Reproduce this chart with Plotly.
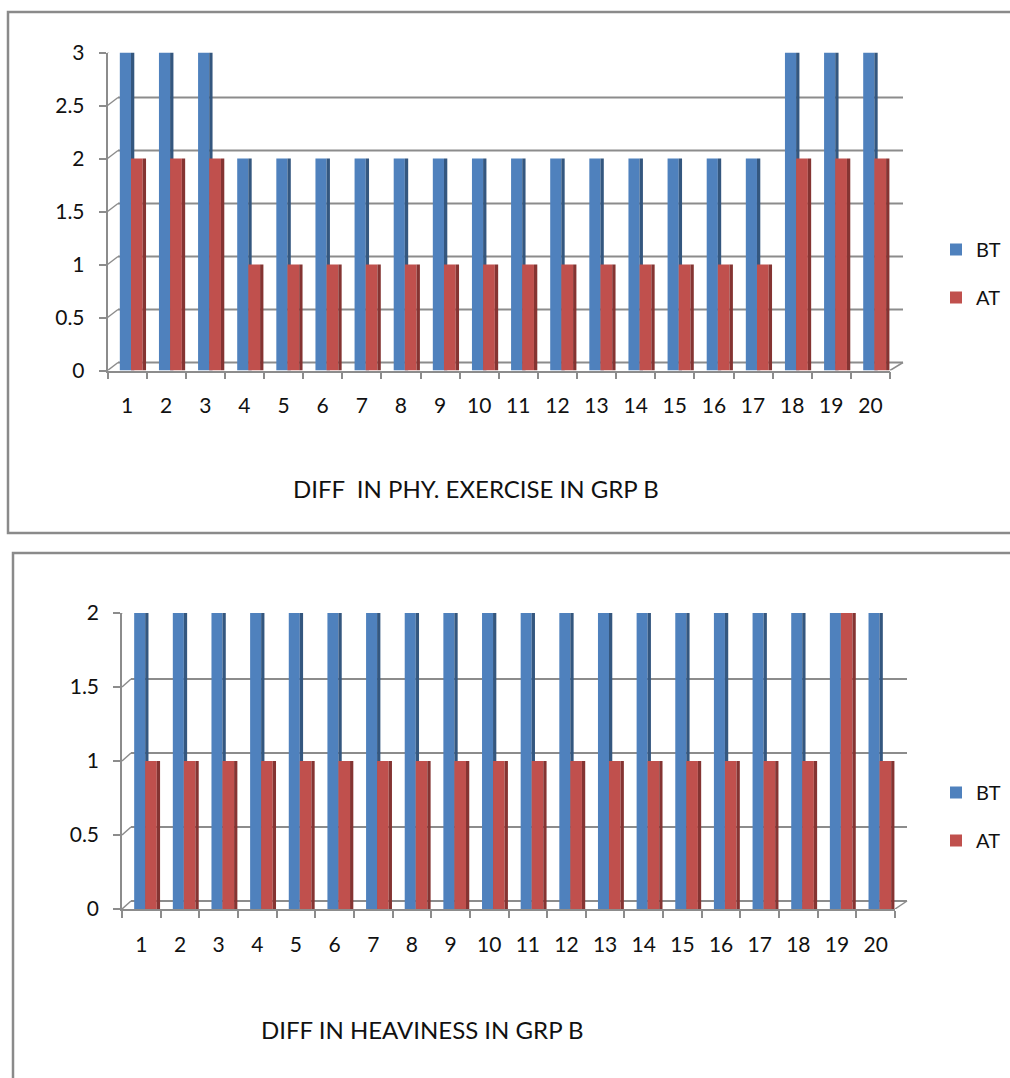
import plotly.graph_objects as go

# ---------------- data ----------------
categories = ["1", "2", "3", "4", "5", "6", "7", "8", "9", "10",
              "11", "12", "13", "14", "15", "16", "17", "18", "19", "20"]

exercise_bt = [3, 3, 3, 2, 2, 2, 2, 2, 2, 2, 2, 2, 2, 2, 2, 2, 2, 3, 3, 3]
exercise_at = [2, 2, 2, 1, 1, 1, 1, 1, 1, 1, 1, 1, 1, 1, 1, 1, 1, 2, 2, 2]

heaviness_bt = [2, 2, 2, 2, 2, 2, 2, 2, 2, 2, 2, 2, 2, 2, 2, 2, 2, 2, 2, 2]
heaviness_at = [1, 1, 1, 1, 1, 1, 1, 1, 1, 1, 1, 1, 1, 1, 1, 1, 1, 1, 2, 1]

exercise_yticks = [0, 0.5, 1, 1.5, 2, 2.5, 3]
heaviness_yticks = [0, 0.5, 1, 1.5, 2]

series_names = ["BT", "AT"]
title_top = "DIFF&nbsp; IN PHY. EXERCISE IN GRP B"
title_bottom = "DIFF IN HEAVINESS IN GRP B"

# ---------------- styling ----------------
W, H = 1010, 1078
FONT = "Lato, 'Open Sans', sans-serif"
BLUE, BLUE_SIDE = "#4F81BD", "#34577F"
RED, RED_SIDE = "#C0504D", "#853432"
GRID = "#8C8C8C"
FRAME = "#8A8A8A"
TXT = "#111111"


def px(x):
    return x / W


def py(y):
    return 1 - y / H


fig = go.Figure()


def add_bars(xa, ya, bt, at, legend):
    common = dict(x=categories, xaxis=xa, yaxis=ya, marker_line_width=0)
    fig.add_bar(y=bt, name=series_names[0], marker_color=BLUE, offset=-0.185, width=0.285,
                legend=legend, legendgroup=legend + "bt", hoverinfo="y", **common)
    fig.add_bar(y=bt, marker_color=BLUE_SIDE, offset=0.1, width=0.085, showlegend=False,
                hoverinfo="skip", **common)
    fig.add_bar(y=at, name=series_names[1], marker_color=RED, offset=0.1, width=0.3,
                legend=legend, legendgroup=legend + "at", hoverinfo="y", **common)
    fig.add_bar(y=at, marker_color=RED_SIDE, offset=0.4, width=0.085, showlegend=False,
                hoverinfo="skip", **common)


add_bars("x", "y", exercise_bt, exercise_at, "legend")
add_bars("x2", "y2", heaviness_bt, heaviness_at, "legend2")

axis_common = dict(showline=True, linecolor=GRID, linewidth=1.5, ticks="outside",
                   tickcolor=GRID, tickwidth=1.5, ticklen=7, showgrid=False, zeroline=False,
                   automargin=False,
                   tickfont=dict(family=FONT, size=21, color=TXT), fixedrange=True)

# chart geometry (front plane, px)
top_box = dict(x0=107.5, x1=890, y0=370.5, y1=52.5)
bot_box = dict(x0=122, x1=895, y0=909, y1=613)

legend_common = dict(xanchor="left", yanchor="top",
                     tracegroupgap=19, font=dict(family=FONT, size=20, color=TXT),
                     bgcolor="rgba(0,0,0,0)", borderwidth=0)

fig.update_layout(
    template="none",
    width=W, height=H, autosize=False,
    margin=dict(l=0, r=0, t=0, b=0, pad=0),
    paper_bgcolor="white", plot_bgcolor="rgba(0,0,0,0)",
    barmode="overlay",
    font=dict(family=FONT, color=TXT),
    xaxis=dict(domain=[px(top_box["x0"]), px(top_box["x1"])], anchor="y", type="category",
               tickson="boundaries", range=[-0.5, 19.5], ticklabelstandoff=16, **axis_common),
    yaxis=dict(domain=[py(top_box["y0"]), py(top_box["y1"])], anchor="x", range=[0, 3],
               tickvals=exercise_yticks, ticklabelstandoff=10, **axis_common),
    xaxis2=dict(domain=[px(bot_box["x0"]), px(bot_box["x1"])], anchor="y2", type="category",
                tickson="boundaries", range=[-0.5, 19.5], ticklabelstandoff=16, **axis_common),
    yaxis2=dict(domain=[py(bot_box["y0"]), py(bot_box["y1"])], anchor="x2", range=[0, 2],
                tickvals=heaviness_yticks, ticklabelstandoff=10, **axis_common),
    legend=dict(x=px(936), y=py(230), **legend_common),
    legend2=dict(x=px(936), y=py(773), **legend_common),
    showlegend=True,
)

shapes = []
# outer frames
shapes.append(dict(type="rect", xref="paper", yref="paper", x0=px(8), x1=px(1014),
                   y0=py(12), y1=py(533), line=dict(color=FRAME, width=2.5), layer="above"))
shapes.append(dict(type="rect", xref="paper", yref="paper", x0=px(13), x1=px(1014),
                   y0=py(553), y1=py(1082), line=dict(color=FRAME, width=2.5), layer="above"))


def back_plane(box, yref, ticks, dx_left, dx_right, dy):
    for v in ticks:
        # back-wall gridline
        shapes.append(dict(type="line", xref="paper", yref=yref, ysizemode="pixel", yanchor=v,
                           x0=px(box["x0"] + dx_left), x1=px(box["x1"] + dx_right), y0=dy, y1=dy,
                           line=dict(color=GRID, width=2), layer="below"))
        # left wall connector
        shapes.append(dict(type="line", xref="paper", yref=yref, ysizemode="pixel", yanchor=v,
                           x0=px(box["x0"]), x1=px(box["x0"] + dx_left), y0=0, y1=dy,
                           line=dict(color=GRID, width=1.5), layer="below"))
    # right floor connector
    shapes.append(dict(type="line", xref="paper", yref=yref, ysizemode="pixel", yanchor=ticks[0],
                       x0=px(box["x1"]), x1=px(box["x1"] + dx_right), y0=0, y1=dy,
                       line=dict(color=GRID, width=1.5), layer="below"))


back_plane(top_box, "y", exercise_yticks, 10.5, 13, 8)
back_plane(bot_box, "y2", heaviness_yticks, 9, 12, 8)

fig.update_layout(shapes=shapes)

fig.add_annotation(text=title_top, xref="paper", yref="paper", x=px(476), y=py(489),
                   xanchor="center", yanchor="middle", showarrow=False,
                   font=dict(family=FONT, size=24, color=TXT))
fig.add_annotation(text=title_bottom, xref="paper", yref="paper", x=px(422), y=py(1029),
                   xanchor="center", yanchor="middle", showarrow=False,
                   font=dict(family=FONT, size=24, color=TXT))

fig.write_html(
    "out.html",
    config={"responsive": False, "displayModeBar": False},
    post_script="document.body.style.margin='0';document.body.style.overflow='hidden';",
)
